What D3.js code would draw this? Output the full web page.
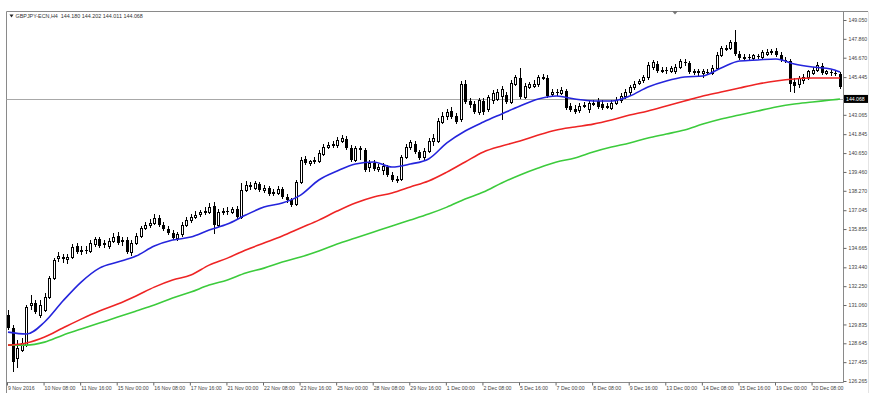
<!DOCTYPE html>
<html><head><meta charset="utf-8">
<script src="https://cdn.jsdelivr.net/npm/d3@7/dist/d3.min.js"></script>
<style>html,body{margin:0;padding:0;background:#fff;} svg{display:block;}</style>
</head><body><svg id="c" width="877" height="403"></svg>
<script>
// ---- data (GBPJPY H4) ----
const symbolTitle = "GBPJPY-ECN,H4  144.180 144.202 144.011 144.068";
const lastPrice = 144.068;

const opens = [130.43,129.61,127.71,128.22,128.53,131.00,131.18,130.43,130.74,131.56,132.76,134.02,134.09,133.96,134.09,134.78,134.47,134.53,134.47,134.91,
135.22,134.85,134.78,135.10,135.41,135.04,135.16,134.40,134.97,135.41,135.92,136.11,136.23,136.55,136.11,135.86,135.60,135.29,135.48,136.11,
136.42,136.61,136.80,136.87,136.93,137.31,136.11,136.93,136.99,136.93,137.12,136.61,138.32,138.63,138.44,138.70,138.32,138.44,138.07,138.13,
138.38,137.88,137.69,137.43,138.82,140.28,140.02,140.09,140.15,140.59,141.03,141.16,141.16,141.41,141.54,140.97,140.21,140.97,140.84,139.71,
140.02,139.64,139.52,139.77,139.27,138.95,139.01,140.34,141.03,141.22,140.72,140.34,140.78,141.35,141.41,142.61,142.93,143.31,142.99,142.74,
145.01,143.94,143.75,143.24,143.94,143.37,144.00,144.06,144.25,144.32,143.87,145.01,145.39,144.19,144.82,144.88,144.95,145.39,145.39,144.32,
144.50,144.44,144.57,143.62,143.43,143.31,143.62,143.37,143.75,143.94,143.75,143.56,143.49,143.81,143.94,144.25,144.50,144.76,145.07,145.20,
145.45,146.08,146.27,145.83,145.89,145.83,145.83,146.08,146.40,146.34,145.77,145.83,145.70,145.77,145.70,146.02,146.84,147.22,147.28,147.66,
146.90,146.65,146.71,146.65,146.78,146.71,146.90,147.03,147.09,146.84,146.53,146.46,145.14,144.95,145.26,145.45,145.70,145.89,146.15,145.70,
145.77,145.70,145.64];
const highs = [130.74,129.80,128.85,128.97,131.06,131.69,131.37,131.37,131.82,132.89,134.02,134.40,134.28,134.28,134.91,134.97,134.78,134.78,135.16,135.35,
135.35,135.16,135.29,135.60,135.67,135.35,135.35,135.16,135.60,136.05,136.30,136.49,136.80,136.74,136.30,136.05,135.79,135.67,136.30,136.61,
136.80,136.99,137.06,137.24,137.50,137.56,137.12,137.18,137.24,137.24,137.31,138.76,138.89,138.82,138.89,138.82,138.63,138.57,138.38,138.57,
138.51,138.07,137.81,138.95,140.40,140.46,140.21,140.40,140.84,141.22,141.35,141.41,141.66,141.79,141.73,141.16,141.10,141.10,140.97,140.21,
140.21,139.96,140.02,139.90,139.45,139.20,140.53,141.22,141.47,141.41,140.84,140.97,141.60,141.85,142.86,143.24,143.43,143.56,143.18,145.20,
145.26,144.13,143.94,144.13,144.13,144.32,144.63,144.69,144.88,144.50,145.26,145.58,146.02,145.07,145.14,145.26,145.58,145.64,145.58,144.69,
144.69,144.82,144.69,143.81,143.68,143.81,143.87,143.94,144.00,144.13,144.00,143.81,144.00,144.19,144.44,144.69,144.95,145.20,145.33,145.58,
146.40,146.53,146.46,146.08,146.08,146.15,146.27,146.59,146.59,146.46,145.96,145.96,145.96,145.96,146.21,147.03,147.41,147.47,147.79,148.42,
147.09,146.90,146.90,146.90,146.90,147.16,147.22,147.22,147.28,147.03,146.71,146.59,145.39,145.52,145.64,145.89,146.08,146.40,146.34,145.89,
145.89,145.89,145.77];
const lows = [129.48,126.83,127.08,128.09,128.41,130.74,130.49,130.24,130.62,131.44,132.64,133.77,133.71,133.65,133.96,134.28,134.21,134.28,134.34,134.72,
134.66,134.66,134.59,134.97,134.85,134.78,134.28,134.15,134.85,135.29,135.79,135.92,136.11,135.98,135.73,135.48,135.16,135.10,135.35,135.98,
136.23,136.49,136.61,136.74,136.80,135.54,135.98,136.74,136.74,136.80,136.49,136.49,138.19,138.32,138.32,138.19,138.13,137.94,137.94,138.00,
137.75,137.50,137.24,137.31,138.70,139.90,139.83,139.96,140.02,140.46,140.91,140.97,140.97,141.29,140.84,140.09,140.09,140.21,139.45,139.45,
139.52,139.45,139.27,139.14,138.82,138.76,138.89,140.28,140.84,140.59,140.21,140.21,140.65,141.10,141.29,142.48,142.74,142.80,142.48,142.61,
143.75,143.49,143.12,143.05,143.05,143.24,143.75,143.94,142.74,143.75,143.75,144.88,144.06,144.06,144.69,144.76,144.82,145.26,144.13,144.19,
144.25,144.32,143.37,143.24,143.12,143.18,143.49,143.18,143.62,143.43,143.37,143.43,143.37,143.68,143.81,144.06,144.32,144.63,144.95,145.07,
145.26,145.89,145.70,145.70,145.64,145.70,145.64,145.96,146.15,145.64,145.58,145.52,145.39,145.58,145.58,145.89,146.71,147.09,147.16,146.78,
146.53,146.53,146.53,146.53,146.59,146.59,146.78,146.84,146.71,146.40,146.34,144.50,144.44,144.76,145.01,145.26,145.58,145.77,145.58,145.58,
145.52,145.52,144.69];
const closes = [129.61,127.46,128.34,128.66,130.93,131.18,130.62,131.06,131.56,132.76,133.90,134.15,133.96,134.09,134.72,134.40,134.53,134.47,134.97,135.22,
134.78,134.97,135.10,135.35,134.97,135.16,134.40,134.97,135.41,135.86,136.11,136.23,136.55,136.11,135.86,135.60,135.29,135.48,136.11,136.42,
136.61,136.74,136.87,136.99,137.24,136.11,136.93,136.99,136.93,137.06,136.61,138.32,138.63,138.51,138.70,138.32,138.44,138.07,138.19,138.38,
137.88,137.69,137.37,138.82,140.21,140.02,140.09,140.21,140.65,141.03,141.16,141.22,141.47,141.60,140.97,140.21,140.97,140.84,139.58,140.02,
139.64,139.77,139.83,139.27,138.95,139.01,140.34,141.03,141.29,140.72,140.34,140.78,141.41,141.60,142.67,142.99,143.24,142.93,142.61,145.01,
143.87,143.68,143.24,143.94,143.24,144.13,144.38,144.50,144.69,143.87,145.07,145.39,144.19,144.88,144.95,145.01,145.39,145.45,144.25,144.50,
144.44,144.63,143.49,143.37,143.24,143.62,143.68,143.75,143.81,143.56,143.49,143.62,143.81,144.00,144.25,144.50,144.76,145.01,145.14,145.39,
146.15,146.34,145.83,145.89,145.83,145.96,146.08,146.40,146.34,145.77,145.83,145.70,145.77,145.70,146.02,146.84,147.22,147.28,147.66,146.90,
146.65,146.71,146.65,146.78,146.71,146.97,147.03,147.09,146.84,146.53,146.46,145.01,144.88,145.33,145.45,145.77,145.89,146.15,145.70,145.77,
145.70,145.64,144.82];

// moving averages, read at every 4th bar
const maBars = [0,4,8,12,16,20,24,28,32,36,40,44,48,52,56,60,64,68,72,76,80,84,88,92,96,100,104,108,112,116,120,124,128,132,136,140,144,148,152,156,160,164,168,172,176,180,182];
const maBlue = [129.35,129.23,129.99,131.31,132.51,133.39,133.77,134.15,134.78,135.16,135.35,135.79,136.17,136.74,137.24,137.50,138.00,138.95,139.52,139.96,
140.09,139.77,139.96,140.28,141.29,142.04,142.61,143.12,143.62,144.06,144.25,144.06,143.94,143.94,144.25,144.82,145.20,145.45,145.52,146.02,
146.46,146.53,146.59,146.27,146.08,145.96,145.77];
const maRed = [128.53,128.66,129.04,129.61,130.17,130.68,131.12,131.63,132.19,132.64,132.95,133.58,134.02,134.53,134.97,135.41,135.92,136.42,136.99,137.50,
137.88,138.13,138.51,138.89,139.45,140.09,140.72,141.10,141.41,141.79,142.11,142.30,142.48,142.74,143.05,143.31,143.62,143.94,144.25,144.50,
144.76,145.01,145.20,145.33,145.39,145.39,145.39];
const maGreen = [128.53,128.53,128.72,129.16,129.54,129.92,130.30,130.68,131.06,131.50,131.88,132.32,132.64,133.08,133.39,133.77,134.09,134.47,134.91,135.29,
135.67,136.05,136.42,136.80,137.24,137.75,138.19,138.76,139.27,139.71,140.09,140.34,140.72,141.03,141.29,141.60,141.85,142.11,142.48,142.80,
143.05,143.31,143.56,143.75,143.87,144.00,144.06];

const priceTicks = [149.050,147.860,146.670,145.445,143.065,141.845,140.650,139.460,138.270,137.045,135.855,134.665,133.440,132.250,131.060,129.835,128.645,127.455,126.265];
const timeTickBars = [0,8,16,24,32,40,48,56,64,72,80,88,96,104,112,120,128,136,144,152,160,168,176];
const timeTickLabels = ["9 Nov 2016","10 Nov 08:00","11 Nov 16:00","15 Nov 00:00","16 Nov 08:00","17 Nov 16:00","21 Nov 00:00","22 Nov 08:00",
"23 Nov 16:00","25 Nov 00:00","28 Nov 08:00","29 Nov 16:00","1 Dec 00:00","2 Dec 08:00","5 Dec 16:00","7 Dec 00:00","8 Dec 08:00",
"9 Dec 16:00","13 Dec 00:00","14 Dec 08:00","15 Dec 16:00","19 Dec 00:00","20 Dec 08:00"];

// ---- drawing ----
const svg = d3.select("#c");
const L = 6.5, R = 843.5, T = 11.5, B = 382.5;
const FONT = "'Liberation Sans', Arial, sans-serif";

const x = d3.scaleLinear().domain([0, opens.length - 1]).range([8, 840]);
const y = d3.scaleLinear().domain([126.265, 149.05]).range([381, 20]);

svg.append("rect").attr("width", 877).attr("height", 403).attr("fill", "#fff");

// outer frame
svg.append("line").attr("x1", L).attr("x2", 868).attr("y1", T).attr("y2", T).attr("stroke", "#8a8a8a");
svg.append("line").attr("x1", L).attr("x2", L).attr("y1", T).attr("y2", 393).attr("stroke", "#8a8a8a");
svg.append("line").attr("x1", 868.5).attr("x2", 868.5).attr("y1", T).attr("y2", 393).attr("stroke", "#e4e4e4");
// plot frame
svg.append("line").attr("x1", R).attr("x2", R).attr("y1", T).attr("y2", B).attr("stroke", "#8a8a8a");
svg.append("line").attr("x1", L).attr("x2", R).attr("y1", B).attr("y2", B).attr("stroke", "#8a8a8a");

// current price line
svg.append("line").attr("x1", L).attr("x2", R).attr("y1", Math.round(y(lastPrice)) + 0.5).attr("y2", Math.round(y(lastPrice)) + 0.5)
  .attr("stroke", "#a8a8a8").attr("stroke-width", 1);

// candles
const bars = opens.map((o, i) => ({i, o, h: highs[i], l: lows[i], c: closes[i]}));
const cg = svg.append("g").attr("shape-rendering", "crispEdges");
const cx = d => Math.round(x(d.i)) + 0.5;
cg.selectAll("line.w").data(bars).join("line")
  .attr("x1", cx).attr("x2", cx).attr("y1", d => y(d.h)).attr("y2", d => y(d.l))
  .attr("stroke", "#000").attr("stroke-width", 1);
cg.selectAll("rect.b").data(bars).join("rect")
  .attr("x", d => d.c >= d.o ? cx(d) - 1 : cx(d) - 1.5)
  .attr("width", d => d.c >= d.o ? 2 : 3)
  .attr("y", d => y(Math.max(d.o, d.c)))
  .attr("height", d => Math.max(1, Math.abs(y(d.o) - y(d.c))))
  .attr("fill", d => d.c >= d.o ? "#fff" : "#000")
  .attr("stroke", d => d.c >= d.o ? "#000" : "none")
  .attr("stroke-width", 1);

// moving averages
const line = arr => d3.line().x((d, k) => x(maBars[k])).y(d => y(d)).curve(d3.curveMonotoneX)(arr);
[[maGreen, "#3ccb3c"], [maRed, "#ee2424"], [maBlue, "#2424dc"]].forEach(([arr, col]) => {
  svg.append("path").attr("d", line(arr)).attr("fill", "none").attr("stroke", col).attr("stroke-width", 1.6);
});

// right price axis
const ya = d3.axisRight(y).tickValues(priceTicks).tickFormat(d3.format(".3f")).tickSize(3).tickPadding(2);
const yg = svg.append("g").attr("transform", `translate(${R},0)`).call(ya);
yg.select(".domain").remove();
yg.selectAll(".tick line").attr("stroke", "#666");
yg.selectAll(".tick text").attr("fill", "#444").attr("font-size", 5.2).attr("font-family", FONT);

// last price box
const ly = y(lastPrice);
svg.append("rect").attr("x", 844).attr("y", ly - 4).attr("width", 24).attr("height", 8).attr("fill", "#000");
svg.append("text").attr("x", 846).attr("y", ly).attr("dy", "0.34em").attr("fill", "#fff")
  .attr("font-size", 5.2).attr("font-family", FONT).text(d3.format(".3f")(lastPrice));

// bottom time axis
const xa = d3.axisBottom(x).tickValues(timeTickBars).tickFormat((d, k) => timeTickLabels[k]).tickSize(3).tickPadding(1);
const xg = svg.append("g").attr("transform", `translate(0,${B})`).call(xa);
xg.select(".domain").remove();
xg.selectAll(".tick line").attr("stroke", "#666").attr("transform", "translate(-1,0)");
xg.selectAll(".tick text").attr("text-anchor", "start").attr("dx", -0.5).attr("fill", "#444")
  .attr("font-size", 5.2).attr("font-family", FONT);

// title
svg.append("path").attr("d", "M9.5,14.5 L13.5,14.5 L11.5,17.5 Z").attr("fill", "#222");
svg.append("text").attr("x", 15.5).attr("y", 18).attr("fill", "#333").attr("font-size", 5.4)
  .attr("font-family", FONT).attr("xml:space", "preserve").text(symbolTitle);

// chart shift marker
svg.append("path").attr("d", "M672,11 L678,11 L675,14.5 Z").attr("fill", "#777");
</script></body></html>
